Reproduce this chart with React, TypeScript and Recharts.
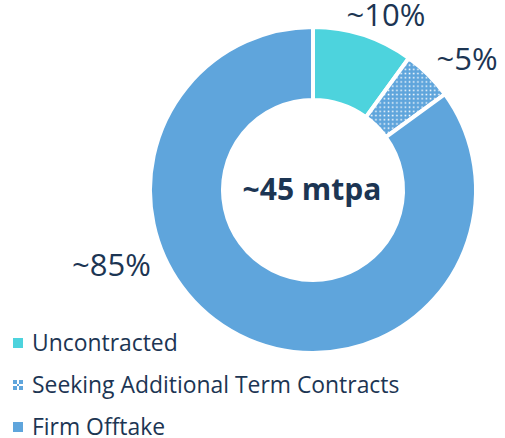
import React from 'react';
import { PieChart, Pie, Cell } from 'recharts';

const categories = ['Uncontracted', 'Seeking Additional Term Contracts', 'Firm Offtake'];
const shares = [10, 5, 85];
const sliceLabels = ['~10%', '~5%', '~85%'];
const centerLabel = '~45 mtpa';

const COLORS = ['#4dd3dd', 'url(#dots)', '#5fa5dc'];
const LEGEND_COLORS = ['#4dd3dd', 'url(#dotsSmall)', '#5fa5dc'];
const TEXT = '#1c3553';
const FONT = '"Open Sans", "Noto Sans", sans-serif';

const data = categories.map((name, i) => ({ name, value: shares[i] }));

// label placement: angle (deg, math convention) and radius from chart centre to text baseline-centre
const LABEL_POLAR = [
  { a: 66, r: 179.5 },
  { a: 37.9, r: 195.2 },
  { a: 203.1, r: 219.1 },
];

const renderLabel = (props: any) => {
  const { cx, cy, index } = props;
  const p = LABEL_POLAR[index];
  const rad = (p.a * Math.PI) / 180;
  const x = cx + p.r * Math.cos(rad);
  const y = cy - p.r * Math.sin(rad);
  return (
    <text x={x} y={y} fill={TEXT} fontSize={31} fontFamily={FONT} textAnchor="middle">
      {sliceLabels[index]}
    </text>
  );
};

export default function App() {
  return (
    <div style={{ position: 'absolute', left: 0, top: 0, width: 505, height: 438, background: '#fff' }}>
      <PieChart width={505} height={438} margin={{ top: 0, right: 0, bottom: 0, left: 0 }}>
        <defs>
          <pattern id="dots" width="4.2" height="4.2" patternUnits="userSpaceOnUse">
            <rect width="4.2" height="4.2" fill="#5fa5dc" />
            <rect x="1.4" y="1.4" width="1.5" height="1.5" fill="#ffffff" />
          </pattern>
          <pattern id="dotsSmall" width="10" height="10" patternUnits="userSpaceOnUse" x="13" y="380">
            <rect width="10" height="10" fill="#5fa5dc" />
            <rect x="4" y="0" width="2" height="10" fill="#ffffff" />
            <rect x="0" y="4" width="10" height="2" fill="#ffffff" />
            <rect x="4" y="4" width="2" height="2" fill="#5fa5dc" />
          </pattern>
        </defs>
        <Pie
          data={data}
          dataKey="value"
          nameKey="name"
          cx={313}
          cy={190}
          innerRadius={90}
          outerRadius={163}
          startAngle={90}
          endAngle={-270}
          stroke="#ffffff"
          strokeWidth={4}
          label={renderLabel}
          labelLine={false}
          isAnimationActive={false}
        >
          {data.map((d, i) => (
            <Cell key={d.name} fill={COLORS[i]} />
          ))}
        </Pie>
        <text
          x={312}
          y={200}
          textAnchor="middle"
          fill={TEXT}
          fontSize={30}
          fontWeight={700}
          fontFamily={FONT}
        >
          {centerLabel}
        </text>
        {categories.map((c, i) => (
          <g key={c}>
            <rect x={13} y={338 + i * 42} width={10} height={10} fill={LEGEND_COLORS[i]} />
            <text x={32} y={351 + i * 42} fill={TEXT} fontSize={22.9} fontFamily={FONT}>
              {c}
            </text>
          </g>
        ))}
      </PieChart>
    </div>
  );
}
